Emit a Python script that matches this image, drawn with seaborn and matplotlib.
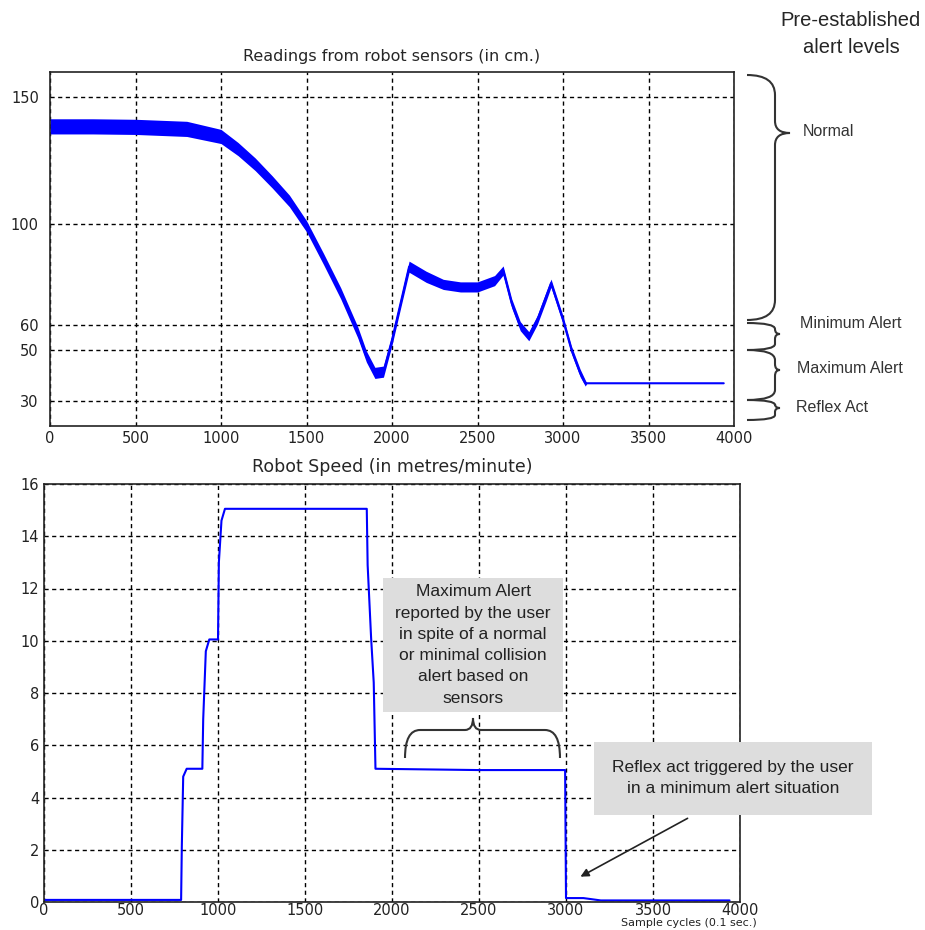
import matplotlib
matplotlib.use("Agg")
import matplotlib.pyplot as plt
from matplotlib.path import Path
from matplotlib.patches import PathPatch, Rectangle, FancyArrowPatch
import seaborn as sns

# Upper panel: sensor readings (cm)
sensor_cycles = [0, 250, 500, 800, 1000, 1100, 1200, 1300, 1400, 1500,
                 1600, 1700, 1800, 1850, 1900, 1950, 2000, 2050, 2100, 2200,
                 2300, 2400, 2500, 2600, 2650, 2700, 2750, 2800, 2850, 2900,
                 2930, 3000, 3050, 3100, 3130, 3140, 3940]
sensor_cm = [138.5, 138.5, 138.3, 137.5, 134.5, 129.5, 123.5, 116.5, 109, 99,
             86, 72.5, 57, 47.5, 41, 41.5, 54, 68.5, 83, 79,
             76, 75, 75, 77.5, 81.5, 68.5, 59.5, 55.5, 62, 71,
             76.5, 62, 50, 41, 37, 36.9, 36.9]
# half-width of the noisy band around the trace
sensor_spread = [3, 3, 3, 3, 2.8, 2.6, 2.5, 2.4, 2.3, 2.2,
                 2.2, 2.2, 2.2, 2.2, 2.2, 2.2, 2, 2, 2.2, 2.2,
                 2, 2, 2, 2, 1.8, 1.8, 1.8, 1.8, 1.8, 1.8,
                 1.6, 1.5, 1.5, 1.5, 1.2, 0, 0]
sensor_ticks = [30, 50, 60, 100, 150]

# Lower panel: robot speed (metres/minute)
speed_cycles = [0, 500, 788, 792, 800, 820, 910, 915, 930, 950,
                1000, 1005, 1020, 1040, 1500, 1855, 1860, 1880, 1895, 1905,
                2500, 2995, 3000, 3100, 3200, 3940]
speed_mpm = [0.08, 0.08, 0.08, 2.1, 4.8, 5.1, 5.1, 7.0, 9.6, 10.05,
             10.05, 13.0, 14.6, 15.05, 15.05, 15.05, 12.9, 10.1, 8.4, 5.1,
             5.05, 5.05, 0.15, 0.15, 0.06, 0.06]

alert_levels = ["Normal", "Minimum Alert", "Maximum Alert", "Reflex Act"]

sns.set_style("white")
plt.rcParams['font.family'] = ['DejaVu Sans']

W, H = 925, 930
fig = plt.figure(figsize=(W / 100, H / 100), dpi=100)


def fx(x):
    return x / W


def fy(y):
    return 1 - y / H


def style_axes(ax):
    ax.grid(True, color='black', linestyle=(0, (3, 2.5)), linewidth=1.0)
    for s in ax.spines.values():
        s.set_color('#222222')
        s.set_linewidth(1.2)
    ax.tick_params(direction='in', length=3, labelsize=10.5, colors='#222222')
    ax.set_xlim(0, 4000)
    ax.set_xticks(range(0, 4001, 500))
    ax.set_xlabel("")
    ax.set_ylabel("")


# top panel
ax1 = fig.add_axes([fx(50), fy(426), (734 - 50) / W, (426 - 72) / H])
low = [v - s for v, s in zip(sensor_cm, sensor_spread)]
high = [v + s for v, s in zip(sensor_cm, sensor_spread)]
ax1.fill_between(sensor_cycles, low, high, color='#0000ff', lw=0)
sns.lineplot(x=sensor_cycles, y=sensor_cm, ax=ax1, color='#0000ff', lw=1.5,
             estimator=None, sort=False)
style_axes(ax1)
ax1.set_ylim(20, 160)
ax1.set_yticks(sensor_ticks)
ax1.tick_params(axis='y', pad=8)
ax1.set_title("Readings from robot sensors (in cm.)", fontsize=11.5, pad=8)

# bottom panel
ax2 = fig.add_axes([fx(44), fy(902), (740 - 44) / W, (902 - 484) / H])
sns.lineplot(x=speed_cycles, y=speed_mpm, ax=ax2, color='#0000ff', lw=1.5,
             estimator=None, sort=False)
style_axes(ax2)
ax2.set_ylim(0, 16)
ax2.set_yticks(range(0, 17, 2))
ax2.tick_params(axis='x', pad=1)
ax2.set_title("Robot Speed (in metres/minute)", fontsize=12.5, pad=9)
fig.text(fx(689), fy(922.5), "Sample cycles (0.1 sec.)", ha='center', va='center',
         fontsize=8, color='#222222')


def brace(start, end, base, spine, tip_pos, tip, vertical, r=10, rt=8):
    # coordinates in pixels; "along" runs start->end, "across" base->spine->tip
    pts = [(start, base), (start, spine), (start + r, spine),
           (tip_pos - rt, spine), (tip_pos, spine), (tip_pos, tip),
           (tip_pos, spine), (tip_pos + rt, spine),
           (end - r, spine), (end, spine), (end, base)]
    codes = [Path.MOVETO, Path.CURVE3, Path.CURVE3,
             Path.LINETO, Path.CURVE3, Path.CURVE3,
             Path.CURVE3, Path.CURVE3,
             Path.LINETO, Path.CURVE3, Path.CURVE3]
    if vertical:
        verts = [(fx(c), fy(a)) for a, c in pts]
    else:
        verts = [(fx(a), fy(c)) for a, c in pts]
    fig.add_artist(PathPatch(Path(verts, codes), fill=False, lw=1.5,
                             edgecolor='#333333', transform=fig.transFigure))


# alert level braces on the right of the top panel
brace(75, 320, 747, 775, 133, 790, True, r=20, rt=12)
brace(323, 350, 747, 775, 334, 780, True, r=6, rt=5)
brace(350, 400, 747, 775, 370, 780, True, r=10, rt=6)
brace(400, 420, 747, 775, 408, 780, True, r=5, rt=4)

fig.text(fx(851), fy(34), "Pre-established\nalert levels", ha='center', va='center',
         fontsize=14.5, family='Liberation Sans', linespacing=1.55)
label_pos = [(803, 131), (800, 324), (797, 368), (796, 407)]
for lab, (x, y) in zip(alert_levels, label_pos):
    fig.text(fx(x), fy(y), lab, ha='left', va='center', fontsize=11.5,
             family='Liberation Sans', color='#333333')

# annotation boxes on the bottom panel
fig.add_artist(Rectangle((fx(383), fy(712)), (563 - 383) / W, (712 - 578) / H,
                         transform=fig.transFigure, facecolor='#dddddd',
                         edgecolor='none'))
fig.text(fx(473), fy(645), "Maximum Alert\nreported by the user\nin spite of a normal\n"
         "or minimal collision\nalert based on\nsensors", ha='center', va='center',
         fontsize=12.5, family='Liberation Sans', color='#222222', linespacing=1.52)
brace(405, 560, 758, 730, 473, 718, False, r=15, rt=8)

fig.add_artist(Rectangle((fx(594), fy(815)), (872 - 594) / W, (815 - 742) / H,
                         transform=fig.transFigure, facecolor='#dddddd',
                         edgecolor='none'))
fig.text(fx(733), fy(778), "Reflex act triggered by the user\nin a minimum alert situation",
         ha='center', va='center', fontsize=12.5, family='Liberation Sans',
         color='#222222', linespacing=1.52)
fig.add_artist(FancyArrowPatch((fx(690), fy(817)), (fx(578), fy(878)),
                               transform=fig.transFigure, arrowstyle='-|>',
                               mutation_scale=12, color='#222222', lw=1.2))

fig.savefig("out.png", dpi=100)
